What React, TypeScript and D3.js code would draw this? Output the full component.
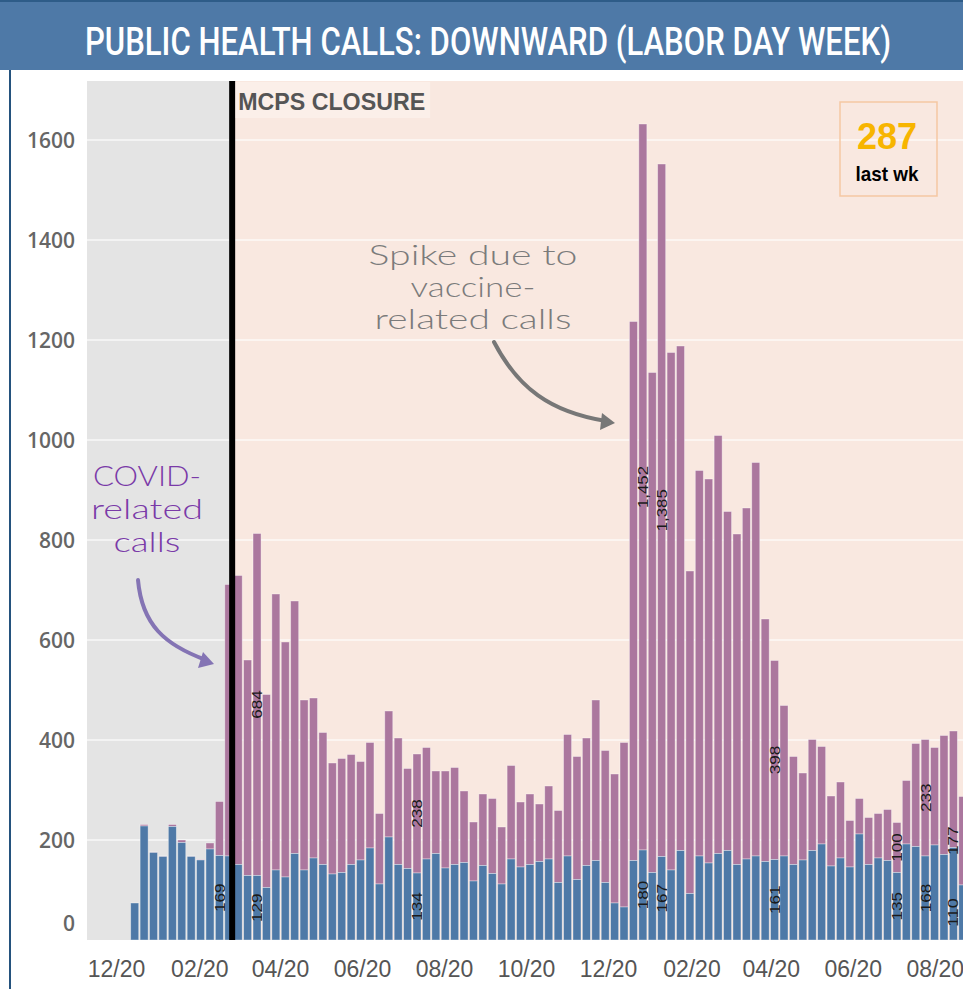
import React from "react";
import * as d3 from "d3";

const W = 963;
const H = 989;

// weekly public health calls, first bar = week of 12/30/2019, last bar = Labor Day week 2021
const firstWeek = new Date(2019, 11, 30);
const otherCalls = [
  74, 228, 175, 167, 227, 195, 167, 160, 182, 169, 168, 151, 129, 129, 105, 140, 126, 173, 140, 164,
  151, 132, 135, 151, 160, 184, 112, 206, 151, 143, 134, 162, 173, 144, 151, 155, 118, 149, 133, 112,
  162, 146, 151, 157, 162, 115, 168, 121, 149, 159, 115, 74, 66, 159, 180, 135, 167, 140, 179, 93,
  168, 154, 173, 179, 151, 162, 168, 157, 161, 168, 151, 160, 179, 192, 148, 164, 146, 212, 151, 164,
  159, 135, 192, 187, 168, 190, 171, 185, 110,
];
const covidCalls = [
  0, 3, 1, 1, 4, 5, 1, 1, 12, 108, 543, 578, 431, 684, 386, 552, 470, 505, 340, 320,
  264, 222, 228, 220, 197, 211, 141, 252, 253, 200, 238, 223, 165, 194, 194, 143, 118, 143, 150, 114,
  187, 130, 141, 115, 146, 144, 243, 246, 255, 321, 264, 258, 329, 1078, 1452, 1000, 1385, 1035, 1009, 645,
  771, 768, 836, 678, 661, 702, 787, 485, 398, 301, 216, 174, 222, 195, 140, 152, 93, 71, 94, 89,
  102, 100, 127, 206, 233, 195, 238, 233, 177,
];
// weeks whose segments carry a value label
const labelOther = [9, 13, 30, 54, 56, 68, 81, 84, 88];
const labelCovid = [13, 30, 54, 56, 68, 81, 84, 88];

const yTicks = [0, 200, 400, 600, 800, 1000, 1200, 1400, 1600];
const xTickDates = [
  "2019-12-20", "2020-02-20", "2020-04-20", "2020-06-20", "2020-08-20", "2020-10-20",
  "2020-12-20", "2021-02-20", "2021-04-20", "2021-06-20", "2021-08-20",
];
const closureDate = "2020-03-15";

const covidNote = ["COVID-", "related", "calls"];
const spikeNote = ["Spike due to", "vaccine-", "related calls"];

const BLUE = "#4e79a7";
const PURPLE = "#ab779e";

export default function App() {
  const parse = d3.timeParse("%Y-%m-%d");
  const fmtTick = d3.timeFormat("%m/%d");
  const fmtNum = d3.format(",");

  const weeks = otherCalls.map((_, i) => d3.timeDay.offset(firstWeek, 7 * i));
  const n = weeks.length;

  const plotLeft = 87;
  const plotTop = 81;
  const plotBottom = 940;

  const x = d3
    .scaleTime()
    .domain([weeks[0], weeks[n - 1]])
    .range([130, 130 + (n - 1) * 9.41]);
  const y = d3.scaleLinear().domain([0, 1718]).range([plotBottom, plotTop]);

  const closureX = x(parse(closureDate)!);
  const lastTotal = otherCalls[n - 1] + covidCalls[n - 1];

  const barX = (i: number) => x(weeks[i]) + 0.7;
  const barW = (i: number) => x(d3.timeDay.offset(weeks[i], 7)) - x(weeks[i]) - 1.4;

  const segLabel = (i: number, lo: number, hi: number, v: number, key: string) => {
    const cx = Math.min(barX(i) + barW(i) / 2, W - 10);
    const cy = (y(lo) + y(hi)) / 2;
    const s = fmtNum(v);
    const len = s.replace(/,/g, "").length * 9.5 + (s.includes(",") ? 4 : 0);
    return (
      <text
        key={key}
        transform={`translate(${cx},${cy}) rotate(-90)`}
        textAnchor="middle"
        dy="0.36em"
        fontSize={15}
        fill="#1a1a1a"
        textLength={len}
        lengthAdjust="spacingAndGlyphs"
      >
        {s}
      </text>
    );
  };

  const covidWidths = [108, 112, 67];
  const spikeWidths = [209, 125, 197];

  return (
    <div style={{ position: "absolute", left: 0, top: 0 }}>
      <svg width={W} height={H} style={{ display: "block", fontFamily: "'Liberation Sans', Arial, sans-serif" }}>
        <rect x={0} y={0} width={W} height={H} fill="#fff" />

        {/* title bar */}
        <rect x={0} y={0} width={W} height={70} fill={BLUE} />
        <rect x={0} y={0} width={W} height={2} fill="#2e5c88" />
        <text
          transform="translate(488,55) scale(1,1.25)"
          textAnchor="middle"
          fill="#fff"
          fontFamily="Roboto, sans-serif"
          fontWeight={500}
          fontSize={31}
          textLength={806}
          lengthAdjust="spacingAndGlyphs"
        >
          PUBLIC HEALTH CALLS: DOWNWARD (LABOR DAY WEEK)
        </text>
        <rect x={9} y={70} width={2} height={H - 70} fill="#24527d" />

        {/* plot background: before / after closure */}
        <rect x={plotLeft} y={plotTop} width={closureX - plotLeft} height={plotBottom - plotTop} fill="#e4e4e4" />
        <rect x={closureX} y={plotTop} width={W - closureX} height={plotBottom - plotTop} fill="#f9e8e0" />

        {/* gridlines */}
        {yTicks.slice(1).map((t) => (
          <line
            key={`g-${t}`}
            x1={plotLeft}
            x2={W}
            y1={y(t)}
            y2={y(t)}
            stroke="#fff"
            strokeOpacity={0.75}
            strokeWidth={1.5}
          />
        ))}

        {/* stacked bars */}
        {weeks.map((w, i) => {
          const o = otherCalls[i];
          const c = covidCalls[i];
          return (
            <g key={`b-${i}`}>
              {c > 0 && (
                <rect
                  x={barX(i)}
                  y={y(o + c)}
                  width={barW(i)}
                  height={y(o) - y(o + c)}
                  fill={PURPLE}
                  stroke="#fff"
                  strokeOpacity={0.45}
                  strokeWidth={0.8}
                />
              )}
              <rect
                x={barX(i)}
                y={y(o)}
                width={barW(i)}
                height={y(0) - y(o)}
                fill={BLUE}
                stroke="#fff"
                strokeOpacity={0.45}
                strokeWidth={0.8}
              />
            </g>
          );
        })}

        {/* value labels */}
        {labelOther.map((i) => segLabel(i, 0, otherCalls[i], otherCalls[i], `lo-${i}`))}
        {labelCovid.map((i) =>
          segLabel(i, otherCalls[i], otherCalls[i] + covidCalls[i], covidCalls[i], `lc-${i}`)
        )}

        {/* closure marker */}
        <rect x={closureX - 3} y={plotTop} width={6} height={plotBottom - plotTop} fill="#000" />
        <rect x={closureX + 3} y={plotTop + 1} width={195} height={36} fill="#fff" fillOpacity={0.3} />
        <text
          x={closureX + 6}
          y={110}
          fill="#555"
          fontWeight={700}
          fontSize={24}
          textLength={187}
          lengthAdjust="spacingAndGlyphs"
        >
          MCPS CLOSURE
        </text>

        {/* last week box */}
        <rect x={840} y={102} width={97} height={94} fill="none" stroke="#f5c7a3" strokeWidth={1.5} />
        <text x={887} y={149} textAnchor="middle" fill="#f7b500" fontWeight={700} fontSize={36}>
          {lastTotal}
        </text>
        <text
          x={887}
          y={181}
          textAnchor="middle"
          fill="#000"
          fontWeight={700}
          fontSize={21}
          textLength={63}
          lengthAdjust="spacingAndGlyphs"
        >
          last wk
        </text>

        {/* annotations */}
        <g fontFamily="Lato, sans-serif" fontWeight={300} fontSize={27} textAnchor="middle" fill="#7a3aa8">
          {covidNote.map((s, k) => (
            <text key={s} x={147} y={486 + k * 33} textLength={covidWidths[k]} lengthAdjust="spacingAndGlyphs">
              {s}
            </text>
          ))}
        </g>
        <path d="M138,580 C142,625 165,645 206,660" fill="none" stroke="#8474b4" strokeWidth={4} strokeLinecap="round" />
        <path d="M214,664 L198,668 L203,652 Z" fill="#8474b4" />

        <g fontFamily="Lato, sans-serif" fontWeight={300} fontSize={27} textAnchor="middle" fill="#7b7b7b">
          {spikeNote.map((s, k) => (
            <text key={s} x={473} y={265 + k * 32} textLength={spikeWidths[k]} lengthAdjust="spacingAndGlyphs">
              {s}
            </text>
          ))}
        </g>
        <path d="M494,342 C518,388 550,412 606,421" fill="none" stroke="#777" strokeWidth={4} strokeLinecap="round" />
        <path d="M615,423 L600,430 L602,413 Z" fill="#777" />

        {/* y axis labels */}
        {yTicks.map((t) => (
          <text
            key={`y-${t}`}
            x={75}
            y={Math.min(y(t), plotBottom - 17)}
            dy="0.36em"
            textAnchor="end"
            fill="#666"
            fontFamily="'Open Sans', sans-serif"
            fontWeight={600}
            fontSize={21}
          >
            {t}
          </text>
        ))}

        {/* x axis labels */}
        {xTickDates.map((d) => (
          <text key={`x-${d}`} x={x(parse(d)!)} y={977} textAnchor="middle" fill="#555" fontSize={23}>
            {fmtTick(parse(d)!)}
          </text>
        ))}
      </svg>
    </div>
  );
}
